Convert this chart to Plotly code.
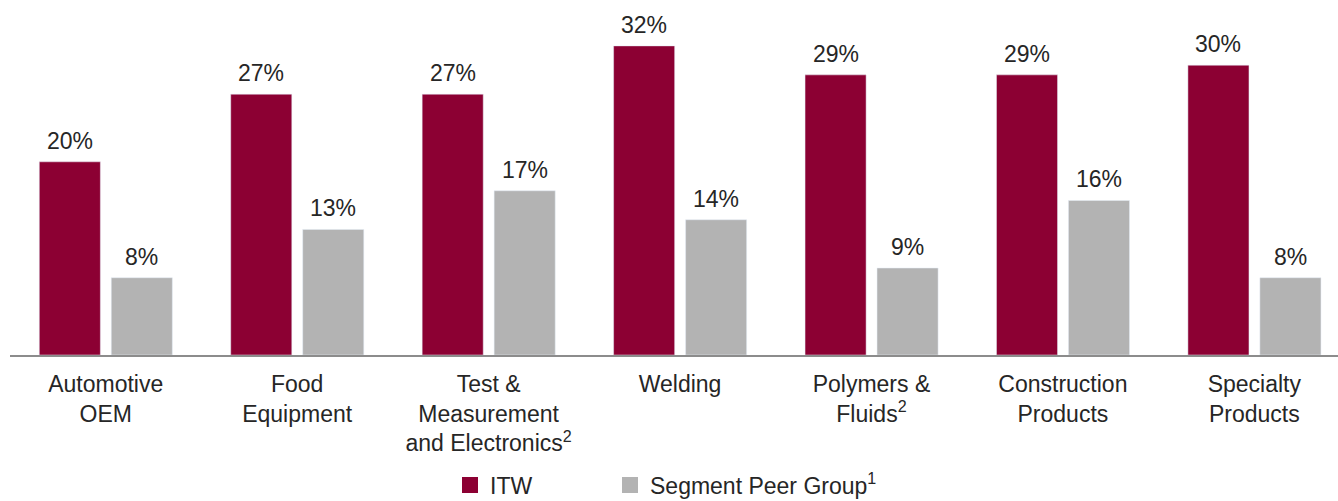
import plotly.graph_objects as go

categories = ["Automotive<br>OEM", "Food<br>Equipment", "Test &<br>Measurement<br>and Electronics<sup>2</sup>",
              "Welding", "Polymers &<br>Fluids<sup>2</sup>", "Construction<br>Products", "Specialty<br>Products"]
itw = [20, 27, 27, 32, 29, 29, 30]
peer = [8, 13, 17, 14, 9, 16, 8]
series_names = ["ITW", "Segment Peer Group<sup>1</sup>"]

ITW_COLOR = "#8C0033"
PEER_COLOR = "#B3B3B3"
TEXT = "#262626"
FONT = "Liberation Sans"

x = list(range(len(categories)))
W = 0.319
fig = go.Figure()
fig.add_trace(go.Bar(x=x, y=itw, width=W, offset=-0.347, marker_color=ITW_COLOR,
                     showlegend=False, hoverinfo="skip"))
fig.add_trace(go.Bar(x=x, y=peer, width=W, offset=0.029, marker_color=PEER_COLOR,
                     showlegend=False, hoverinfo="skip"))

# legend entries (each in its own legend for exact placement)
for name, col, lg in zip(series_names, [ITW_COLOR, PEER_COLOR], ["legend", "legend2"]):
    fig.add_trace(go.Scatter(x=[None], y=[None], mode="markers", name=name, legend=lg,
                             marker=dict(symbol="square", size=22, color=col)))

for xi, v in zip(x, itw):
    fig.add_annotation(x=xi - 0.347 + W / 2, y=v, text=f"{v}%", showarrow=False,
                       yanchor="bottom", yshift=6, font=dict(size=23, color=TEXT, family=FONT))
for xi, v in zip(x, peer):
    fig.add_annotation(x=xi + 0.029 + W / 2, y=v, text=f"{v}%", showarrow=False,
                       yanchor="bottom", yshift=6, font=dict(size=23, color=TEXT, family=FONT))

leg_common = dict(orientation="h", xref="container", yref="container", y=0.075,
                  xanchor="left", yanchor="top", font=dict(size=23, color=TEXT, family=FONT),
                  itemsizing="trace", bgcolor="rgba(0,0,0,0)")

fig.update_layout(
    width=1338, height=501,
    margin=dict(l=10, r=0, t=0, b=146),
    plot_bgcolor="white", paper_bgcolor="white",
    barmode="overlay",
    font=dict(family=FONT, size=23, color=TEXT),
    xaxis=dict(range=[-0.5, 6.437], tickvals=x, ticktext=categories, showgrid=False,
               showline=True, linecolor="#8C8C8C", linewidth=2, ticks="", zeroline=False,
               ticklabelstandoff=7,
               tickfont=dict(size=23, color=TEXT, family=FONT), fixedrange=True),
    yaxis=dict(range=[0, 36.75], visible=False, showgrid=False, zeroline=False, fixedrange=True),
    legend=dict(x=450 / 1338, **leg_common),
    legend2=dict(x=610 / 1338, **leg_common),
)

fig.write_html("out.html")
